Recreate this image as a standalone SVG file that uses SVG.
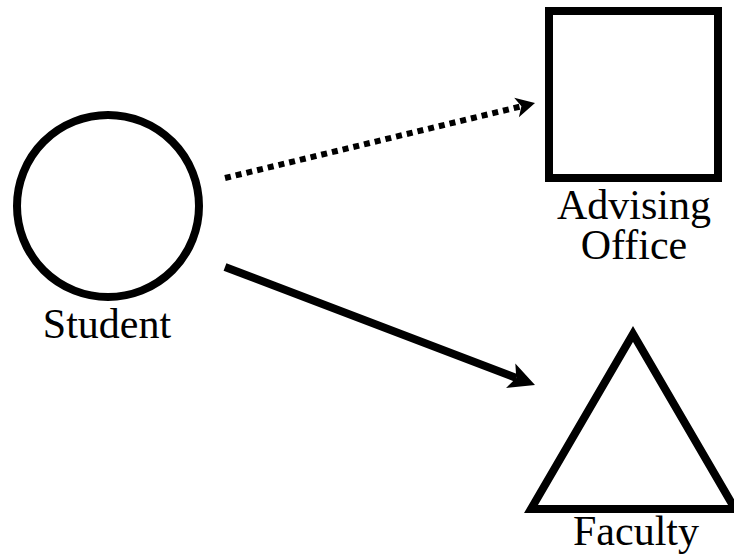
<svg xmlns="http://www.w3.org/2000/svg" width="734" height="555" viewBox="0 0 734 555">
<style>
.shape{fill:#fff;stroke:#000;stroke-width:8}
.lbl{font-family:"Liberation Serif","Times New Roman",serif;font-size:42px;fill:#000;text-anchor:middle}
.conn{fill:none;stroke:#000}
</style>
<defs>
<marker id="headDot" markerUnits="userSpaceOnUse" viewBox="-21 -12 23 24" markerWidth="23" markerHeight="24" refX="-14" refY="0" orient="auto">
<path d="M0,0 L-19,-10 L-14,0 L-19,10 Z" fill="#000"/>
</marker>
<marker id="headSolid" markerUnits="userSpaceOnUse" viewBox="-28 -15 30 30" markerWidth="30" markerHeight="30" refX="-20" refY="0" orient="auto">
<path d="M0,0 L-26,-13 L-20,0 L-26,13 Z" fill="#000"/>
</marker>
</defs>
<rect width="734" height="555" fill="#fff"/>
<g id="connectors">
<path class="conn" d="M225,178 L521.4,106.3" stroke-width="6" stroke-dasharray="6 5" marker-end="url(#headDot)"/>
<path class="conn" d="M225,267 L516.3,377.9" stroke-width="8" marker-end="url(#headSolid)"/>
</g>
<g id="student">
<circle class="shape" cx="108" cy="206" r="91"/>
<text class="lbl" x="107" y="338">Student</text>
</g>
<g id="advising-office">
<rect class="shape" x="549" y="11" width="169" height="167"/>
<text class="lbl" x="634" y="219" font-size="41">Advising</text>
<text class="lbl" x="634" y="259" font-size="41">Office</text>
</g>
<g id="faculty">
<polygon class="shape" points="633,334 531,509 735,509"/>
<text class="lbl" x="636" y="545">Faculty</text>
</g>
</svg>
